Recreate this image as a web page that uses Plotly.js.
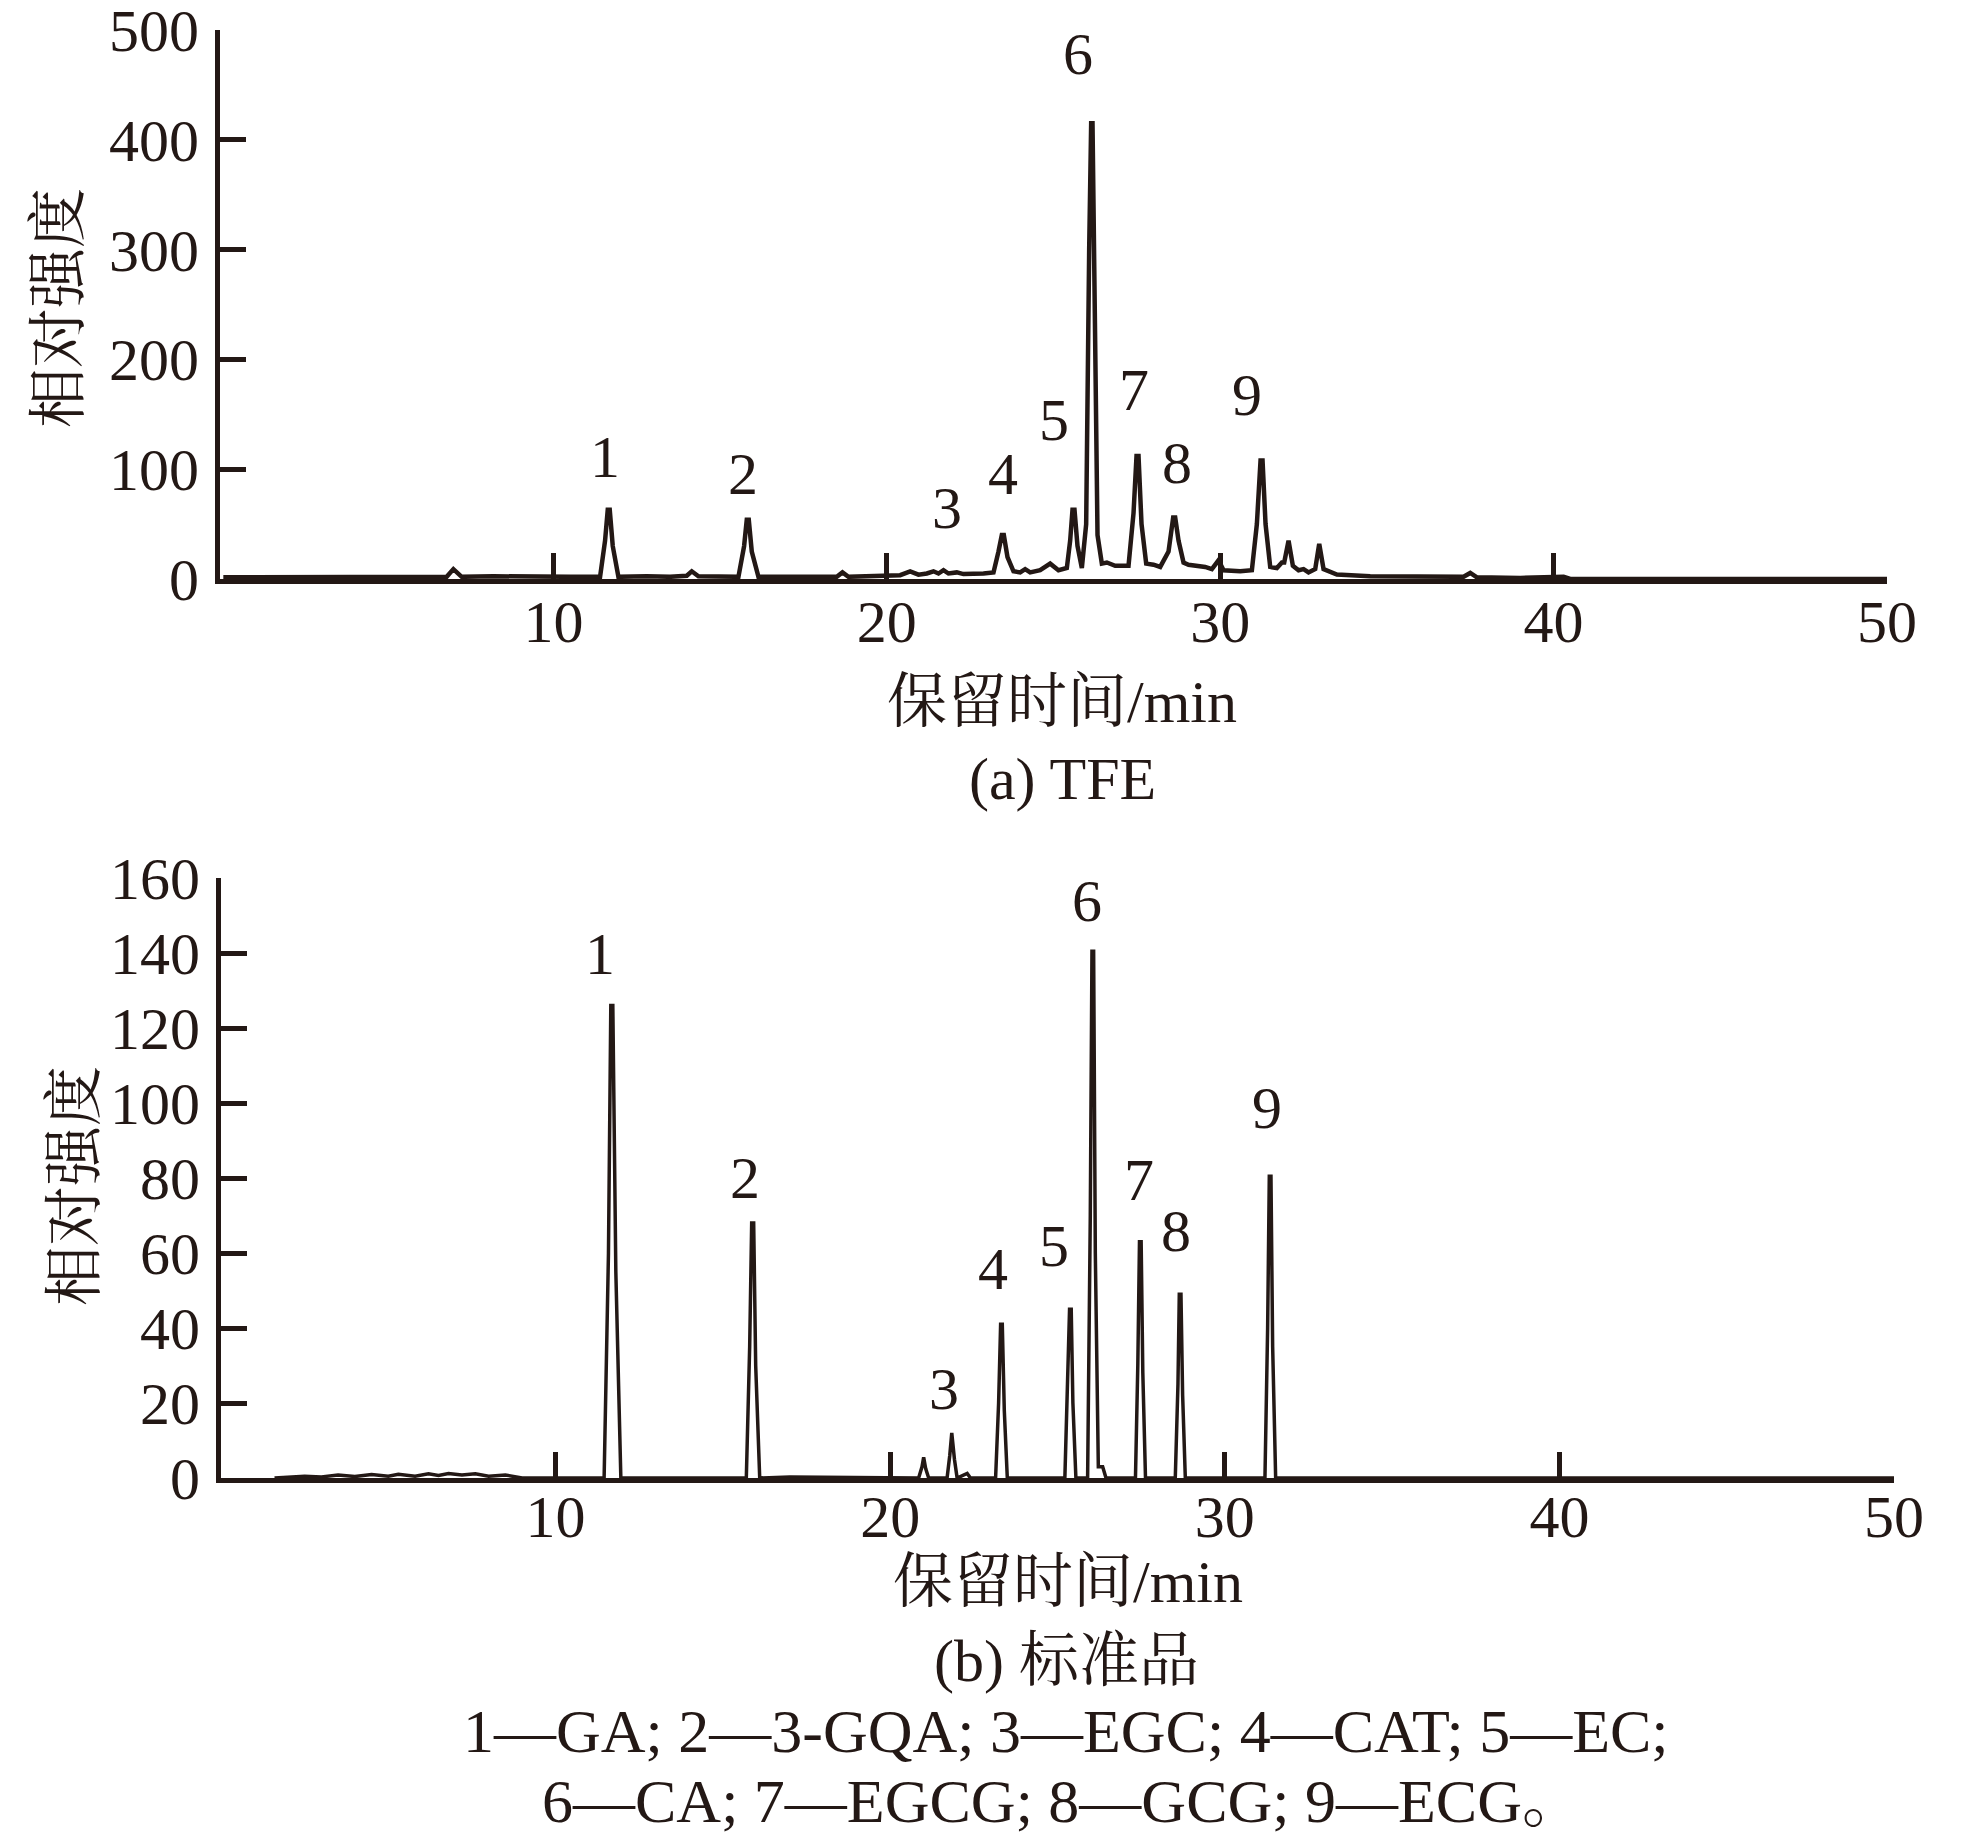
<!DOCTYPE html>
<html>
<head>
<meta charset="utf-8">
<script src="https://cdn.plot.ly/plotly-3.0.1.min.js"></script>
<style>
  html, body { margin: 0; padding: 0; background: #ffffff; }
  #plot { width: 1961px; height: 1846px; }
</style>
</head>
<body>
<div id="plot"></div>
<script>
// (a) TFE trace (min, relative intensity)
const tfeTime = [0.1, 2, 3.5, 4.3, 5.5, 6.8, 7.0, 7.25, 8.2, 9, 10.5, 11.4, 11.55, 11.63, 11.69, 11.78, 11.95,
  12.8, 13.5, 14.0, 14.15, 14.35, 15.55, 15.72, 15.8, 15.86, 15.95, 16.15, 17.5, 18.5, 18.67, 18.85,
  20.4, 20.7, 20.95, 21.2, 21.4, 21.55, 21.7, 21.85, 22.1, 22.3, 22.9, 23.2, 23.35, 23.45, 23.51, 23.62,
  23.8, 24.0, 24.15, 24.3, 24.6, 24.9, 25.15, 25.4, 25.5, 25.57, 25.63, 25.72, 25.85, 25.98, 26.07, 26.13, 26.17,
  26.24, 26.32, 26.45, 26.6, 26.85, 27.25, 27.4, 27.49, 27.55, 27.64, 27.78, 28.0, 28.2, 28.45, 28.59, 28.65,
  28.75, 28.9, 29.05, 29.3, 29.55, 29.75, 29.95, 30.1, 30.6, 30.95, 31.1, 31.21, 31.27, 31.36, 31.5,
  31.7, 31.85, 31.92, 32.05, 32.18, 32.35, 32.5, 32.65, 32.85, 32.97, 33.1, 33.5, 34.5, 36,
  37.3, 37.5, 37.7, 39, 40.3, 40.5, 50];
const tfeIntensity = [1.5, 1.5, 2, 2.5, 2, 2, 9, 2, 2.5, 2, 2, 2, 35, 63, 63, 30, 2,
  2.5, 2, 3, 7, 2.5, 2, 30, 54, 54, 25, 2, 2.5, 2, 6, 2,
  3.5, 7, 4, 5, 7, 5, 8, 5, 6, 4.5, 5, 6, 25, 40, 40, 20,
  7, 6, 9, 6, 8, 14, 8, 10, 35, 63, 63, 30, 10, 50, 300, 415, 415,
  250, 40, 14, 15, 12, 12, 60, 112, 112, 50, 14, 13, 11, 25, 56, 56,
  35, 15, 13, 12, 11, 9, 17, 8, 7, 8, 50, 108, 108, 50, 11,
  10, 15, 15, 35, 12, 8, 9, 6, 9, 32, 9, 4, 2.5, 2,
  2, 5.5, 1.5, 1, 2, 0, 0];

// (b) standards trace
const stdTime = [1.6, 2.5, 3, 3.5, 4, 4.5, 5, 5.3, 5.8, 6.2, 6.5, 6.8, 7.2, 7.6, 8, 8.5, 9,
  11.45, 11.58, 11.65, 11.71, 11.8, 11.95, 15.7, 15.8, 15.86, 15.92, 15.98, 16.1, 17,
  20.85, 20.95, 21.0, 21.06, 21.15, 21.7, 21.78, 21.84, 21.92, 22.0, 22.3, 22.4,
  23.15, 23.24, 23.3, 23.35, 23.41, 23.5, 25.22, 25.3, 25.36, 25.41, 25.46, 25.55,
  25.9, 25.98, 26.03, 26.08, 26.13, 26.22, 26.35, 26.45, 27.33, 27.4, 27.45, 27.5, 27.55, 27.63,
  28.52, 28.6, 28.64, 28.69, 28.74, 28.82, 31.2, 31.28, 31.33, 31.38, 31.43, 31.52, 50];
const stdIntensity = [0, 0.5, 0.3, 0.8, 0.4, 0.9, 0.5, 1, 0.5, 1.1, 0.7, 1.2, 0.8, 1.1, 0.5, 0.8, 0,
  0, 60, 126, 126, 55, 0, 0, 35, 68, 68, 30, 0, 0.3,
  0, 3, 5.5, 2.5, 0, 0, 6, 12, 5, 0, 1.2, 0,
  0, 20, 41, 41, 18, 0, 0, 22, 45, 45, 20, 0,
  0, 70, 140.5, 140.5, 60, 3, 3, 0, 0, 30, 63, 63, 28, 0,
  0, 25, 49, 49, 22, 0, 0, 40, 80.5, 80.5, 35, 0, 0];

// peak number labels
const peakNames = ["1", "2", "3", "4", "5", "6", "7", "8", "9"];
const tfeLabelX = [11.54, 15.7, 21.8, 23.5, 25.0, 25.72, 27.4, 28.7, 30.8];
const tfeLabelY = [111, 96, 65, 96, 145, 478, 172, 106, 168];
const stdLabelX = [11.33, 15.65, 21.6, 23.07, 24.9, 25.87, 27.43, 28.55, 31.27];
const stdLabelY = [139.7, 80, 23.7, 55.8, 62, 154, 79.5, 66, 98.8];

const xTicks = [10, 20, 30, 40, 50];
const tfeTicks = [0, 100, 200, 300, 400, 500];
const stdTicks = [0, 20, 40, 60, 80, 100, 120, 140, 160];

const xTitle = "保留时间/min";
const yTitle = "相对强度";
const captionA = "(a) TFE";
const captionB = "(b) 标准品";
const keyLine1 = "1—GA; 2—3-GQA; 3—EGC; 4—CAT; 5—EC;";
const keyLine2 = "6—CA; 7—EGCG; 8—GCG; 9—ECG。";

const INK = "#231815";
const FONT = "'Liberation Serif', 'Times New Roman', 'Noto Serif CJK SC', 'Noto Sans CJK SC', serif";
const W = 1961, H = 1846;

function axisStyle(extra) {
  return Object.assign({
    showline: true, linewidth: 5, linecolor: INK,
    ticks: "inside", ticklen: 26, tickwidth: 5, tickcolor: INK,
    tickfont: { family: FONT, size: 60, color: INK },
    ticklabeloverflow: "allow",
    showgrid: false, zeroline: false, fixedrange: true
  }, extra);
}

const data = [
  { x: tfeTime, y: tfeIntensity, xaxis: "x", yaxis: "y", mode: "lines",
    line: { color: INK, width: 4.5 }, hoverinfo: "skip" },
  { x: stdTime, y: stdIntensity, xaxis: "x2", yaxis: "y2", mode: "lines",
    line: { color: INK, width: 3.5 }, hoverinfo: "skip" }
];

const annotations = [];
function txt(text, x, y, opts) {
  annotations.push(Object.assign({
    text: text, x: x, y: y, showarrow: false,
    xanchor: "center", yanchor: "middle",
    font: { family: FONT, size: 60, color: INK }
  }, opts));
}

peakNames.forEach((n, i) => {
  txt(n, tfeLabelX[i], tfeLabelY[i], { xref: "x", yref: "y" });
  txt(n, stdLabelX[i], stdLabelY[i], { xref: "x2", yref: "y2" });
});

// pixel positions -> paper fractions
const px = v => v / W;
const py = v => 1 - v / H;

txt(yTitle, px(59), py(308), { xref: "paper", yref: "paper", textangle: -90 });
txt(yTitle, px(75), py(1186), { xref: "paper", yref: "paper", textangle: -90 });
txt(xTitle, px(1062), py(702), { xref: "paper", yref: "paper" });
txt(captionA, px(1062), py(779), { xref: "paper", yref: "paper" });
txt(xTitle, px(1068), py(1582), { xref: "paper", yref: "paper" });
txt(captionB, px(1066), py(1661), { xref: "paper", yref: "paper" });
txt(keyLine1, px(1066), py(1731), { xref: "paper", yref: "paper", font: { family: FONT, size: 62, color: INK } });
txt(keyLine2, px(1063), py(1801), { xref: "paper", yref: "paper", font: { family: FONT, size: 62, color: INK } });

const layout = {
  width: W, height: H,
  margin: { l: 0, r: 0, t: 0, b: 0 },
  paper_bgcolor: "#ffffff", plot_bgcolor: "rgba(0,0,0,0)",
  showlegend: false,
  font: { family: FONT, color: INK },
  xaxis: axisStyle({ domain: [px(220), px(1887)], range: [0, 50], anchor: "y",
    tickvals: xTicks, ticklabelstandoff: -14 }),
  yaxis: axisStyle({ domain: [py(579), py(30)], range: [0, 500], anchor: "x",
    tickvals: tfeTicks, ticklabelstandoff: 4 }),
  xaxis2: axisStyle({ domain: [px(221), px(1894)], range: [0, 50], anchor: "y2",
    tickvals: xTicks, ticklabelstandoff: -18 }),
  yaxis2: axisStyle({ domain: [py(1478), py(878)], range: [0, 160], anchor: "x2",
    tickvals: stdTicks, ticklabelstandoff: 4 }),
  annotations: annotations
};

Plotly.newPlot("plot", data, layout, { staticPlot: true, displayModeBar: false });
</script>
</body>
</html>
